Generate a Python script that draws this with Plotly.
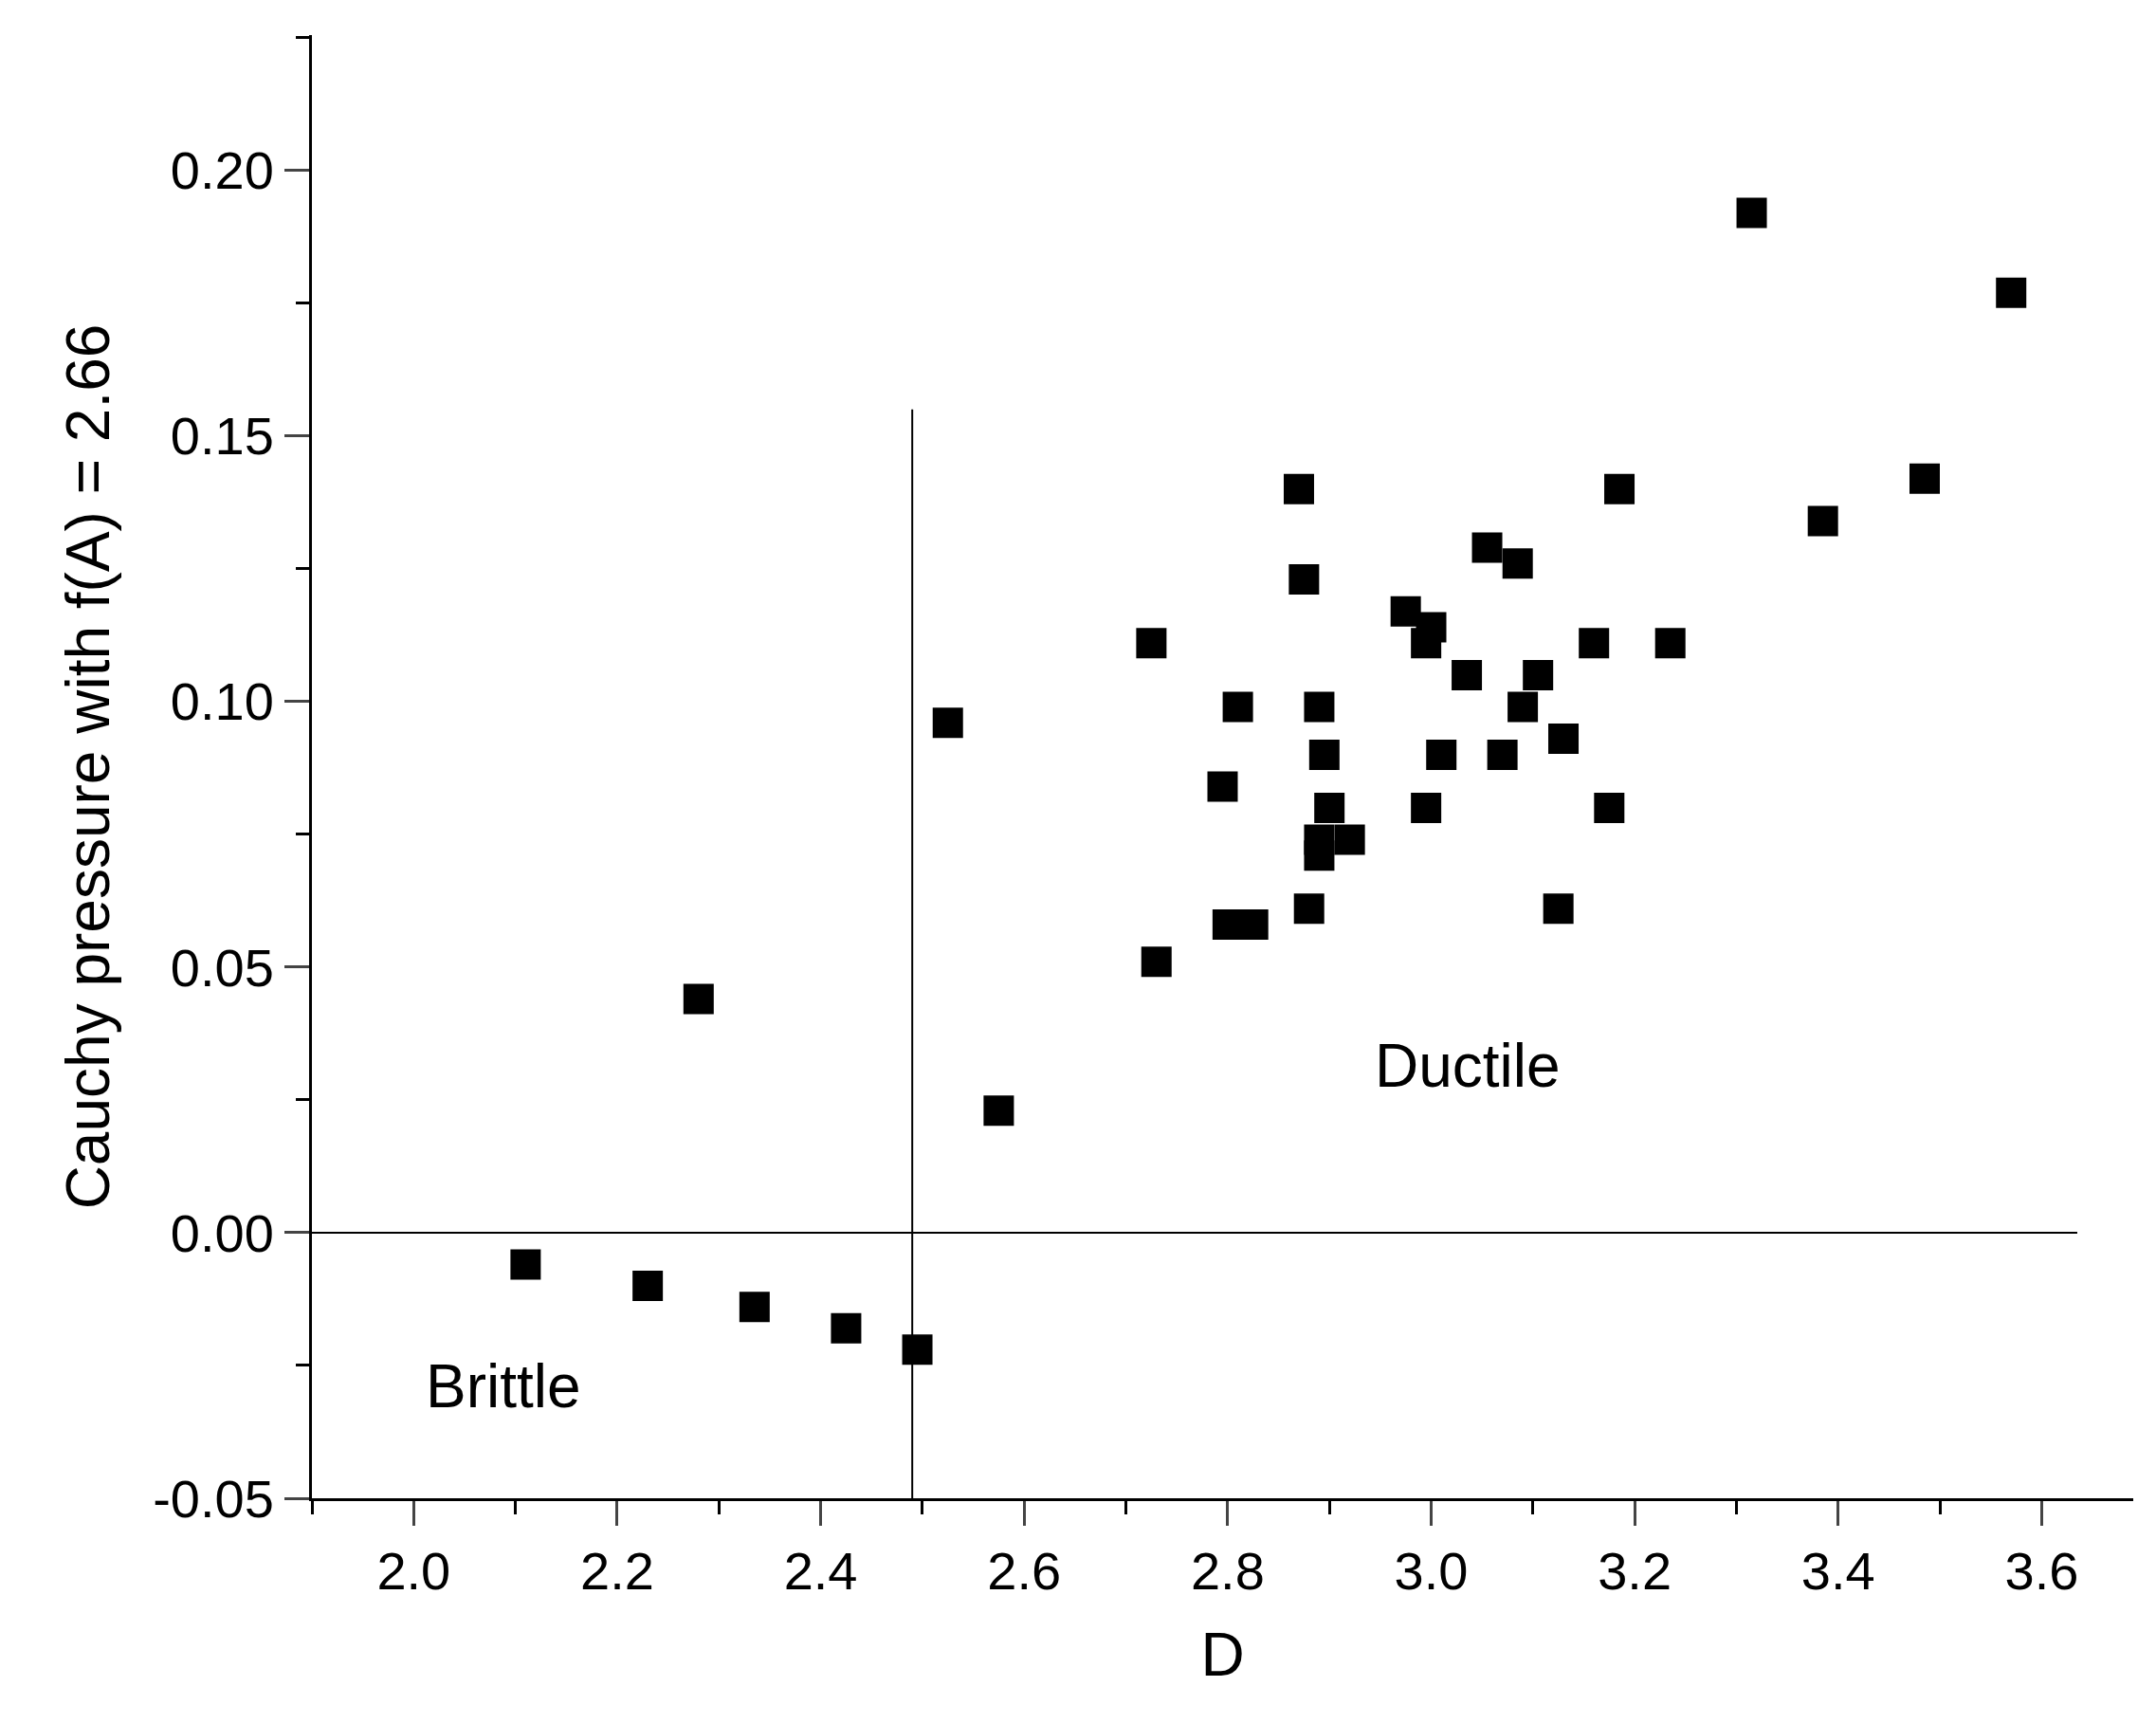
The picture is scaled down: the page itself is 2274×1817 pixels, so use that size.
import plotly.graph_objects as go

D = [2.11,2.23,2.335,2.425,2.495,2.28,2.525,2.575,2.725,2.73,2.795,2.80,2.81,2.825,2.87,2.875,2.88,2.89,2.895,2.90,2.89,2.89,2.92,2.975,3.0,2.995,2.995,3.01,3.035,3.055,3.07,3.085,3.09,3.105,3.125,3.13,3.16,3.175,3.185,3.235,3.315,3.385,3.485,3.57]
P = [-0.006,-0.010,-0.014,-0.018,-0.022,0.044,0.096,0.023,0.111,0.051,0.084,0.058,0.099,0.058,0.140,0.123,0.061,0.099,0.090,0.080,0.074,0.071,0.074,0.117,0.114,0.111,0.080,0.090,0.105,0.129,0.090,0.126,0.099,0.105,0.061,0.093,0.111,0.080,0.140,0.111,0.192,0.134,0.142,0.177]
vline_x = [2.49, 2.49]; vline_y = [-0.05, 0.155]
hline_x = [1.9, 3.635]; hline_y = [0, 0]
x_ticks = [2.0, 2.2, 2.4, 2.6, 2.8, 3.0, 3.2, 3.4, 3.6]
x_labels = ["2.0", "2.2", "2.4", "2.6", "2.8", "3.0", "3.2", "3.4", "3.6"]
y_ticks = [-0.05, 0.0, 0.05, 0.10, 0.15, 0.20]
y_labels = ["-0.05", "0.00", "0.05", "0.10", "0.15", "0.20"]

fig = go.Figure()
fig.add_trace(go.Scatter(x=vline_x, y=vline_y, mode="lines", line=dict(color="black", width=2), showlegend=False))
fig.add_trace(go.Scatter(x=hline_x, y=hline_y, mode="lines", line=dict(color="black", width=2), showlegend=False))
fig.add_trace(go.Scatter(x=D, y=P, mode="markers", marker=dict(symbol="square", size=32, color="black"), showlegend=False))
fig.add_annotation(x=3.036, y=0.0315, text="Ductile", showarrow=False, font=dict(size=64))
fig.add_annotation(x=2.088, y=-0.029, text="Brittle", showarrow=False, font=dict(size=64))

ax = dict(showline=True, linecolor="black", linewidth=3, ticks="outside", ticklen=26, tickwidth=3,
          showgrid=False, zeroline=False, tickfont=dict(size=56, color="black"))
fig.update_xaxes(**ax, range=[1.9, 3.69], tickvals=x_ticks, ticktext=x_labels,
                 minor=dict(ticks="outside", ticklen=14, tickwidth=3, tickcolor="black", dtick=0.1, tick0=2.0),
                 title=dict(text="D", font=dict(size=64, color="black"), standoff=35))
fig.update_yaxes(**ax, range=[-0.05, 0.2255], tickvals=y_ticks, ticktext=y_labels,
                 minor=dict(ticks="outside", ticklen=14, tickwidth=3, tickcolor="black", dtick=0.025, tick0=0),
                 title=dict(text="Cauchy pressure with f(A) = 2.66", font=dict(size=64, color="black"), standoff=25))
fig.update_layout(width=2274, height=1817, plot_bgcolor="white", paper_bgcolor="white",
                  font=dict(family="Liberation Sans, Arial", color="black"),
                  margin=dict(l=321, r=32, t=29, b=245, autoexpand=False))
fig.write_html("out.html")
